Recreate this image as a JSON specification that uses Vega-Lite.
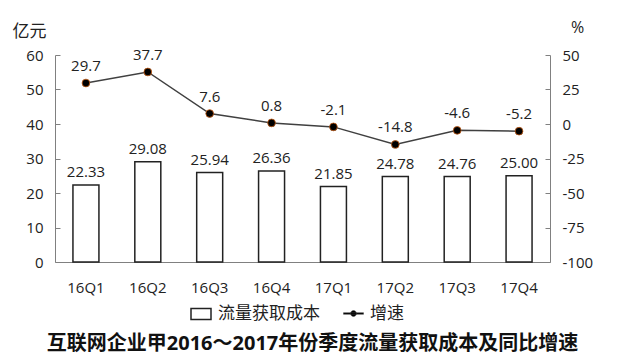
{
  "$schema": "https://vega.github.io/schema/vega-lite/v6.json",
  "width": 495,
  "height": 207,
  "autosize": {"type": "none"},
  "padding": {"left": 55, "top": 55, "right": 67, "bottom": 102},
  "background": "white",
  "title": {
    "text": "互联网企业甲2016～2017年份季度流量获取成本及同比增速",
    "orient": "bottom",
    "anchor": "middle",
    "dx": 10,
    "offset": 11,
    "font": "Open Sans, Noto Sans CJK SC",
    "fontSize": 20,
    "fontWeight": "bold",
    "color": "#111"
  },
  "data": {
    "values": [
      {"q": "16Q1", "cost": 22.33, "growth": 29.7},
      {"q": "16Q2", "cost": 29.08, "growth": 37.7},
      {"q": "16Q3", "cost": 25.94, "growth": 7.6},
      {"q": "16Q4", "cost": 26.36, "growth": 0.8},
      {"q": "17Q1", "cost": 21.85, "growth": -2.1},
      {"q": "17Q2", "cost": 24.78, "growth": -14.8},
      {"q": "17Q3", "cost": 24.76, "growth": -4.6},
      {"q": "17Q4", "cost": 25.00, "growth": -5.2}
    ]
  },
  "encoding": {
    "x": {
      "field": "q",
      "type": "nominal",
      "sort": null,
      "scale": {"paddingInner": 0.58, "paddingOuter": 0.29},
      "axis": {
        "title": null,
        "labelAngle": 0,
        "ticks": false,
        "labelPadding": 18,
        "domainColor": "#808080"
      }
    }
  },
  "layer": [
    {
      "encoding": {
        "y": {
          "field": "cost",
          "type": "quantitative",
          "scale": {"domain": [0, 60], "nice": false},
          "axis": {
            "orient": "left",
            "values": [0, 10, 20, 30, 40, 50, 60],
            "title": "亿元",
            "titleAngle": 0,
            "titleX": -26,
            "titleY": -24,
            "titleAlign": "center",
            "titleBaseline": "middle",
            "titleFont": "Noto Sans CJK SC",
            "titleFontSize": 17,
            "titleFontWeight": "normal",
            "titleColor": "#222",
            "tickSize": -5,
            "labelPadding": 17
          }
        }
      },
      "layer": [
        {
          "mark": {"type": "bar", "fill": "white", "stroke": "#222", "strokeWidth": 1.5},
          "encoding": {
            "fill": {
              "datum": "流量获取成本",
              "scale": {"range": ["white"]},
              "legend": {
                "title": null,
                "orient": "none",
                "legendX": 135,
                "legendY": 248,
                "symbolType": "M-1,-0.55L1,-0.55L1,0.55L-1,0.55Z",
                "symbolSize": 400,
                "symbolStrokeColor": "#222",
                "symbolStrokeWidth": 1.5,
                "labelFont": "Noto Sans CJK SC",
                "labelFontSize": 17,
                "labelColor": "#222",
                "labelOffset": 6
              }
            }
          }
        },
        {
          "mark": {"type": "text", "baseline": "bottom", "dy": -5, "font": "Open Sans", "fontSize": 15, "color": "#222"},
          "encoding": {
            "text": {"field": "cost", "type": "quantitative", "format": ".2f"}
          }
        }
      ]
    },
    {
      "encoding": {
        "y": {
          "field": "growth",
          "type": "quantitative",
          "scale": {"domain": [-100, 50], "nice": false},
          "axis": {
            "orient": "right",
            "values": [-100, -75, -50, -25, 0, 25, 50],
            "title": "%",
            "titleAngle": 0,
            "titleX": 27,
            "titleY": -28,
            "titleAlign": "center",
            "titleBaseline": "middle",
            "titleFont": "Open Sans",
            "titleFontSize": 16,
            "titleFontWeight": "normal",
            "titleColor": "#222",
            "tickSize": -5,
            "labelPadding": 17
          }
        }
      },
      "layer": [
        {
          "mark": {"type": "line", "strokeWidth": 1.5},
          "encoding": {
            "color": {
              "datum": "增速",
              "scale": {"range": ["#404040"]},
              "legend": {
                "title": null,
                "orient": "none",
                "legendX": 288,
                "legendY": 248,
                "symbolType": "M-1,-0.08L1,-0.08L1,0.08L-1,0.08Z M0.3,0A0.3,0.3 0 1,1 -0.3,0A0.3,0.3 0 1,1 0.3,0Z",
                "symbolSize": 400,
                "symbolFillColor": "#000",
                "symbolStrokeColor": "#000",
                "symbolStrokeWidth": 0.5,
                "labelFont": "Noto Sans CJK SC",
                "labelFontSize": 17,
                "labelColor": "#222",
                "labelOffset": 6
              }
            }
          }
        },
        {
          "mark": {"type": "point", "filled": true, "fill": "#000", "stroke": "#c55a11", "strokeWidth": 0.8, "size": 60, "opacity": 1}
        },
        {
          "mark": {"type": "text", "baseline": "bottom", "dy": -9, "font": "Open Sans", "fontSize": 15, "color": "#222"},
          "encoding": {
            "text": {"field": "growth", "type": "quantitative", "format": ".1f"}
          }
        }
      ]
    }
  ],
  "resolve": {"scale": {"y": "independent"}},
  "config": {
    "locale": {
      "number": {
        "decimal": ".",
        "thousands": ",",
        "grouping": [3],
        "currency": ["$", ""],
        "minus": "-"
      }
    },
    "view": {"stroke": null},
    "axis": {
      "grid": false,
      "domainColor": "#808080",
      "tickColor": "#808080",
      "labelFont": "Open Sans",
      "labelFontSize": 15,
      "labelColor": "#222"
    }
  }
}
